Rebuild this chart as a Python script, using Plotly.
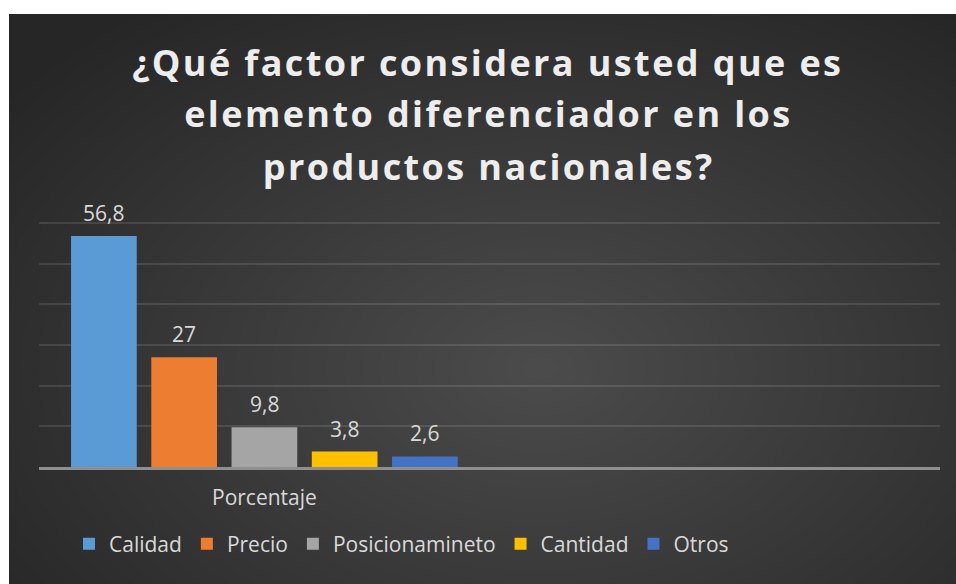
import base64
import struct
import zlib

import numpy as np
import plotly.graph_objects as go

# ---------------- data ----------------
title_lines = ["¿Qué factor considera usted que es",
               "elemento diferenciador en los",
               "productos nacionales?"]
category_label = "Porcentaje"
series_names = ["Calidad", "Precio", "Posicionamineto", "Cantidad", "Otros"]
series_values = [56.8, 27, 9.8, 3.8, 2.6]
series_colors = ["#5B9BD5", "#ED7D31", "#A5A5A5", "#FFC000", "#4472C4"]

# ---------------- geometry / style ----------------
W, H = 956, 584
L, R, T, B = 39, 16, 221, 117
plot_w = W - L - R
plot_h = H - T - B
card_x0, card_y0 = 9, 14
slot_px = 80.25                      # distance between neighbouring bars
first_center_px = 103.9              # centre of the first bar
x_range = [-(first_center_px - L) / slot_px, (W - R - first_center_px) / slot_px]
bar_width = 65.7 / slot_px
title_centers_px = [62, 114, 166]
TXT = "#D9D9D9"


def label(v):
    return f"{v:g}".replace(".", ",")


def png_uri(arr):
    h, w, _ = arr.shape
    raw = b"".join(b"\x00" + arr[i].tobytes() for i in range(h))

    def chunk(t, d):
        return (struct.pack(">I", len(d)) + t + d
                + struct.pack(">I", zlib.crc32(t + d) & 0xFFFFFFFF))

    png = (b"\x89PNG\r\n\x1a\n"
           + chunk(b"IHDR", struct.pack(">IIBBBBB", w, h, 8, 2, 0, 0, 0))
           + chunk(b"IDAT", zlib.compress(raw, 9))
           + chunk(b"IEND", b""))
    return "data:image/png;base64," + base64.b64encode(png).decode()


# radial dark background of the chart card
gw, gh = 474, 285
yy, xx = np.mgrid[0:gh, 0:gw]
cx, cy = 0.56 * gw, 0.62 * gh
t = np.sqrt(((xx - cx) / (0.72 * gw)) ** 2 + ((yy - cy) / (0.80 * gh)) ** 2)
t = np.clip(t, 0, 1)
val = (0x4C - (0x4C - 0x26) * t).astype(np.uint8)
bg_uri = png_uri(np.stack([val, val, val], axis=-1))

positions = list(range(len(series_names)))

fig = go.Figure()
for pos, name, v, c in zip(positions, series_names, series_values, series_colors):
    fig.add_trace(go.Bar(
        name=name, x=[pos], y=[v], width=bar_width,
        marker=dict(color=c, line=dict(width=0)),
        hoverinfo="name+y",
    ))

annotations = []
# data labels above bars
for pos, v in zip(positions, series_values):
    annotations.append(dict(
        x=pos, y=v, xref="x", yref="y", text=label(v), showarrow=False,
        yanchor="bottom", yshift=7,
        font=dict(family="Open Sans", size=21, color=TXT),
    ))
# title lines
for line, yc in zip(title_lines, title_centers_px):
    annotations.append(dict(
        x=(488 - L) / plot_w, y=(H - B - yc) / plot_h,
        xref="paper", yref="paper", text=line, showarrow=False,
        xanchor="center", yanchor="middle",
        font=dict(family="Open Sans", size=36, color="#EDEDED", weight="bold"),
    ))

fig.update_layout(
    width=W, height=H,
    margin=dict(l=L, r=R, t=T, b=B),
    paper_bgcolor="white",
    plot_bgcolor="rgba(0,0,0,0)",
    barmode="overlay",
    showlegend=True,
    legend=dict(
        orientation="h",
        x=(69 - L) / plot_w, xanchor="left",
        y=(H - B - 544) / plot_h, yanchor="middle",
        font=dict(family="Open Sans", size=21, color=TXT),
        bgcolor="rgba(0,0,0,0)",
        traceorder="normal",
    ),
    annotations=annotations,
    images=[dict(
        source=bg_uri, xref="paper", yref="paper",
        x=(card_x0 - L) / plot_w, y=1 + (T - card_y0) / plot_h,
        sizex=(W - card_x0) / plot_w, sizey=(H - card_y0) / plot_h,
        xanchor="left", yanchor="top", sizing="stretch", layer="below",
    )],
)

fig.update_xaxes(
    range=x_range,
    tickmode="array", tickvals=[sum(positions) / len(positions)],
    ticktext=[category_label],
    showgrid=False, showline=True, linecolor="#8F8F8F", linewidth=2.5,
    ticks="outside", ticklen=10, tickcolor="rgba(0,0,0,0)",
    tickfont=dict(family="Open Sans", size=21, color=TXT),
    zeroline=False,
)
fig.update_yaxes(
    range=[0, 60.5], dtick=10, showticklabels=False,
    showgrid=True, gridcolor="rgba(255,255,255,0.11)", gridwidth=1.5,
    zeroline=False, showline=False,
)

post = ("document.body.style.margin='0';"
        "document.querySelectorAll('.annotation-text').forEach(function(e){"
        "if(parseFloat(e.style.fontSize)>=30){e.style.letterSpacing='2.4px';}});")

fig.write_html("out.html", post_script=post, config={"displayModeBar": False})
